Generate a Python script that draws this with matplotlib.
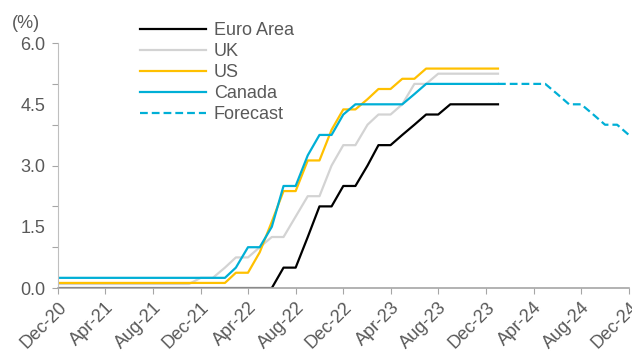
import matplotlib.pyplot as plt
import pandas as pd

plt.rcParams['font.family'] = ['Liberation Sans', 'DejaVu Sans']

# monthly, Dec-20 .. Jan-24
months = pd.date_range("2020-12-01", "2024-01-01", freq="MS")
euro = [0.0] * 19 + [0.5, 0.5, 1.25, 2.0, 2.0, 2.5, 2.5, 3.0, 3.5, 3.5, 3.75, 4.0,
                     4.25, 4.25, 4.5, 4.5, 4.5, 4.5, 4.5]
uk = [0.1] * 12 + [0.25, 0.25, 0.5, 0.75, 0.75, 1.0, 1.25, 1.25, 1.75, 2.25, 2.25,
                   3.0, 3.5, 3.5, 4.0, 4.25, 4.25, 4.5, 5.0, 5.0, 5.25, 5.25, 5.25,
                   5.25, 5.25, 5.25]
us = [0.125] * 15 + [0.375, 0.375, 0.875, 1.625, 2.375, 2.375, 3.125, 3.125, 3.875,
                     4.375, 4.375, 4.625, 4.875, 4.875, 5.125, 5.125, 5.375, 5.375,
                     5.375, 5.375, 5.375, 5.375, 5.375]
canada = [0.25] * 15 + [0.5, 1.0, 1.0, 1.5, 2.5, 2.5, 3.25, 3.75, 3.75, 4.25, 4.5,
                        4.5, 4.5, 4.5, 4.5, 4.75, 5.0, 5.0, 5.0, 5.0, 5.0, 5.0, 5.0]

fc_months = pd.date_range("2024-01-01", "2024-12-01", freq="MS")
forecast = [5.0, 5.0, 5.0, 5.0, 5.0, 4.75, 4.5, 4.5, 4.25, 4.0, 4.0, 3.75]

tick_months = pd.date_range("2020-12-01", "2024-12-01", freq="4MS")
tick_labels = [d.strftime("%b-%y") for d in tick_months]

grey = "#595959"
fs = 13
fig = plt.figure(figsize=(6.32, 3.53), dpi=100)
ax = fig.add_axes([0.092, 0.184, 0.903, 0.694])

lw = 1.6
ax.plot(months, euro, color="black", lw=lw, label="Euro Area")
ax.plot(months, uk, color="#D3D3D3", lw=lw, label="UK")
ax.plot(months, us, color="#FFC000", lw=lw, label="US")
ax.plot(months, canada, color="#00AFD6", lw=lw, label="Canada")
ax.plot(fc_months, forecast, color="#00AFD6", lw=lw, ls=(0, (3.5, 1.8)), label="Forecast")

ax.set_xlim(months[0], fc_months[-1])
ax.set_ylim(0, 6)

# tick marks every 1.0, labels every 1.5
ax.yaxis.remove_overlapping_locs = False
ax.set_yticks(range(0, 7))
ax.set_yticklabels([])
ax.set_yticks([0, 1.5, 3.0, 4.5, 6.0], minor=True)
ax.set_yticklabels(["0.0", "1.5", "3.0", "4.5", "6.0"], minor=True)
ax.tick_params(axis="y", which="major", length=4, color="#A6A6A6", direction="out")
ax.tick_params(axis="y", which="minor", length=0, pad=9, labelsize=fs, labelcolor=grey)

ax.set_xticks(tick_months)
ax.set_xticklabels(tick_labels, rotation=45, ha="right", rotation_mode="anchor")
ax.tick_params(axis="x", length=4, color="#A6A6A6", labelsize=fs, labelcolor=grey, pad=4)

for s in ["top", "right"]:
    ax.spines[s].set_visible(False)
ax.spines["left"].set_color("#BFBFBF")
ax.spines["bottom"].set_color("#A6A6A6")
ax.spines["bottom"].set_linewidth(1.2)

fig.text(0.018, 0.922, "(%)", fontsize=fs, color=grey)

leg = ax.legend(loc="upper left", bbox_to_anchor=(0.221, 0.938), bbox_transform=fig.transFigure,
                frameon=False, fontsize=fs, handlelength=3.7, handletextpad=0.4,
                labelspacing=0.23, borderaxespad=0, borderpad=0)
for t in leg.get_texts():
    t.set_color(grey)

fig.savefig("out.png", dpi=100)
